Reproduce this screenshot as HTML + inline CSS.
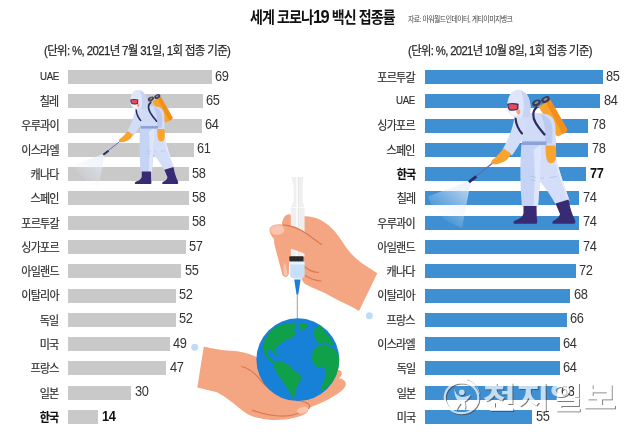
<!DOCTYPE html>
<html lang="ko">
<head>
<meta charset="utf-8">
<title>세계 코로나19 백신 접종률</title>
<style>
html,body{margin:0;padding:0;background:#fff;}
body{width:640px;height:439px;position:relative;overflow:hidden;font-family:"Liberation Sans","Noto Sans CJK KR",sans-serif;color:#222;}
.title{position:absolute;left:249.8px;top:7px;font-size:15.5px;font-weight:700;line-height:20px;white-space:nowrap;letter-spacing:-1px;color:#111;transform-origin:0 50%;transform:scaleX(.905);}
.title .n{font-size:18.2px;letter-spacing:-1.7px;margin-right:.6px;}
.src{position:absolute;left:407.5px;top:13.8px;font-size:8px;line-height:12px;white-space:nowrap;letter-spacing:-.6px;color:#444;transform-origin:0 50%;transform:scaleX(.86);}
.sub{position:absolute;top:42px;font-size:12.5px;line-height:18px;white-space:nowrap;letter-spacing:-.7px;color:#2a2a2a;-webkit-text-stroke:.25px #2a2a2a;transform-origin:0 50%;transform:scaleX(.917);}
.row{position:absolute;left:0;width:640px;height:14px;}
.lab{position:absolute;top:-1.2px;font-size:12px;line-height:18px;white-space:nowrap;letter-spacing:-.8px;color:#2e2e2e;-webkit-text-stroke:.2px #2e2e2e;transform-origin:100% 50%;transform:scaleX(.92);}
.lab.en{letter-spacing:-.5px;transform:scaleX(.82);top:-2.8px;font-size:11.8px;}
.bar{position:absolute;top:0;height:14px;display:block;}
.g{background:#c9c9c9;}
.bl{background:#3f8fd3;}
.val{position:absolute;top:-3.5px;font-size:14.5px;line-height:18px;white-space:nowrap;letter-spacing:-.3px;color:#333;transform-origin:0 50%;transform:scaleX(.885);}
.b .lab,.b .val{font-weight:700;color:#111;}
.b .val{margin-left:.8px;}
svg.art{position:absolute;left:0;top:0;width:640px;height:439px;}
</style>
</head>
<body>
<div class="title">세계 코로나<span class="n">19</span> 백신 접종률</div>
<div class="src">자료: 아워월드인데이터, 게티이미지뱅크</div>
<div class="sub" style="left:44px">(단위: %, 2021년 7월 31일, 1회 접종 기준)</div>
<div class="sub" style="left:408px;transform:scaleX(.905)">(단위: %, 2021년 10월 8일, 1회 접종 기준)</div>
<div class="row" style="top:70.00px"><span class="lab en" style="right:581.2px">UAE</span><i class="bar g" style="left:68px;width:143.75px"></i><span class="val" style="left:215.05px">69</span></div>
<div class="row" style="top:94.29px"><span class="lab" style="right:581.2px">칠레</span><i class="bar g" style="left:68px;width:135.00px"></i><span class="val" style="left:206.30px">65</span></div>
<div class="row" style="top:118.57px"><span class="lab" style="right:581.2px">우루과이</span><i class="bar g" style="left:68px;width:133.75px"></i><span class="val" style="left:205.05px">64</span></div>
<div class="row" style="top:142.86px"><span class="lab" style="right:581.2px">이스라엘</span><i class="bar g" style="left:68px;width:125.75px"></i><span class="val" style="left:197.05px">61</span></div>
<div class="row" style="top:167.14px"><span class="lab" style="right:581.2px">캐나다</span><i class="bar g" style="left:68px;width:120.75px"></i><span class="val" style="left:192.05px">58</span></div>
<div class="row" style="top:191.43px"><span class="lab" style="right:581.2px">스페인</span><i class="bar g" style="left:68px;width:120.75px"></i><span class="val" style="left:192.05px">58</span></div>
<div class="row" style="top:215.71px"><span class="lab" style="right:581.2px">포르투갈</span><i class="bar g" style="left:68px;width:120.75px"></i><span class="val" style="left:192.05px">58</span></div>
<div class="row" style="top:240.00px"><span class="lab" style="right:581.2px">싱가포르</span><i class="bar g" style="left:68px;width:117.50px"></i><span class="val" style="left:188.80px">57</span></div>
<div class="row" style="top:264.29px"><span class="lab" style="right:581.2px">아일랜드</span><i class="bar g" style="left:68px;width:113.25px"></i><span class="val" style="left:184.55px">55</span></div>
<div class="row" style="top:288.57px"><span class="lab" style="right:581.2px">이탈리아</span><i class="bar g" style="left:68px;width:107.75px"></i><span class="val" style="left:179.05px">52</span></div>
<div class="row" style="top:312.86px"><span class="lab" style="right:581.2px">독일</span><i class="bar g" style="left:68px;width:107.75px"></i><span class="val" style="left:179.05px">52</span></div>
<div class="row" style="top:337.14px"><span class="lab" style="right:581.2px">미국</span><i class="bar g" style="left:68px;width:102.00px"></i><span class="val" style="left:173.30px">49</span></div>
<div class="row" style="top:361.43px"><span class="lab" style="right:581.2px">프랑스</span><i class="bar g" style="left:68px;width:98.25px"></i><span class="val" style="left:169.55px">47</span></div>
<div class="row" style="top:385.71px"><span class="lab" style="right:581.2px">일본</span><i class="bar g" style="left:68px;width:63.25px"></i><span class="val" style="left:134.55px">30</span></div>
<div class="row b" style="top:410.00px"><span class="lab" style="right:581.2px">한국</span><i class="bar g" style="left:68px;width:29.90px"></i><span class="val" style="left:101.20px">14</span></div>
<div class="row" style="top:70.00px"><span class="lab" style="right:224.9px">포르투갈</span><i class="bar bl" style="left:424.5px;width:178.20px"></i><span class="val" style="left:606.40px">85</span></div>
<div class="row" style="top:94.29px"><span class="lab en" style="right:224.9px">UAE</span><i class="bar bl" style="left:424.5px;width:175.70px"></i><span class="val" style="left:603.90px">84</span></div>
<div class="row" style="top:118.57px"><span class="lab" style="right:224.9px">싱가포르</span><i class="bar bl" style="left:424.5px;width:163.80px"></i><span class="val" style="left:592.00px">78</span></div>
<div class="row" style="top:142.86px"><span class="lab" style="right:224.9px">스페인</span><i class="bar bl" style="left:424.5px;width:163.80px"></i><span class="val" style="left:592.00px">78</span></div>
<div class="row b" style="top:167.14px"><span class="lab" style="right:224.9px">한국</span><i class="bar bl" style="left:424.5px;width:161.25px"></i><span class="val" style="left:589.45px">77</span></div>
<div class="row" style="top:191.43px"><span class="lab" style="right:224.9px">칠레</span><i class="bar bl" style="left:424.5px;width:154.75px"></i><span class="val" style="left:582.95px">74</span></div>
<div class="row" style="top:215.71px"><span class="lab" style="right:224.9px">우루과이</span><i class="bar bl" style="left:424.5px;width:154.75px"></i><span class="val" style="left:582.95px">74</span></div>
<div class="row" style="top:240.00px"><span class="lab" style="right:224.9px">아일랜드</span><i class="bar bl" style="left:424.5px;width:154.75px"></i><span class="val" style="left:582.95px">74</span></div>
<div class="row" style="top:264.29px"><span class="lab" style="right:224.9px">캐나다</span><i class="bar bl" style="left:424.5px;width:151.00px"></i><span class="val" style="left:579.20px">72</span></div>
<div class="row" style="top:288.57px"><span class="lab" style="right:224.9px">이탈리아</span><i class="bar bl" style="left:424.5px;width:145.75px"></i><span class="val" style="left:573.95px">68</span></div>
<div class="row" style="top:312.86px"><span class="lab" style="right:224.9px">프랑스</span><i class="bar bl" style="left:424.5px;width:142.25px"></i><span class="val" style="left:570.45px">66</span></div>
<div class="row" style="top:337.14px"><span class="lab" style="right:224.9px">이스라엘</span><i class="bar bl" style="left:424.5px;width:135.00px"></i><span class="val" style="left:563.20px">64</span></div>
<div class="row" style="top:361.43px"><span class="lab" style="right:224.9px">독일</span><i class="bar bl" style="left:424.5px;width:135.00px"></i><span class="val" style="left:563.20px">64</span></div>
<div class="row" style="top:385.71px"><span class="lab" style="right:224.9px">일본</span><i class="bar bl" style="left:424.5px;width:132.50px"></i><span class="val" style="left:560.70px">63</span></div>
<div class="row" style="top:410.00px"><span class="lab" style="right:224.9px">미국</span><i class="bar bl" style="left:424.5px;width:107.50px"></i><span class="val" style="left:535.70px">55</span></div>
<svg class="art" viewBox="0 0 640 439" width="640" height="439">
<defs>
<linearGradient id="spL" gradientUnits="userSpaceOnUse" x1="469" y1="182" x2="442" y2="214">
<stop offset="0" stop-color="#e8f1fd" stop-opacity=".8"/><stop offset=".5" stop-color="#e4eefc" stop-opacity=".45"/><stop offset="1" stop-color="#e4eefc" stop-opacity=".12"/>
</linearGradient>
<linearGradient id="spR" gradientUnits="userSpaceOnUse" x1="469" y1="182" x2="442" y2="214">
<stop offset="0" stop-color="#e8f1fd" stop-opacity=".8"/><stop offset=".5" stop-color="#e4eefc" stop-opacity=".45"/><stop offset="1" stop-color="#e4eefc" stop-opacity=".12"/>
</linearGradient>
<filter id="wm" x="-5%" y="-10%" width="110%" height="125%" color-interpolation-filters="sRGB">
<feOffset in="SourceAlpha" dx="1.3" dy="1.3" result="off"/>
<feComposite in="off" in2="SourceAlpha" operator="out" result="sh"/>
<feFlood flood-color="#444" flood-opacity=".7" result="shf"/>
<feComposite in="shf" in2="sh" operator="in" result="shc"/>
<feFlood flood-color="#ffffff" flood-opacity=".7" result="wf"/>
<feComposite in="wf" in2="SourceAlpha" operator="in" result="fillc"/>
<feMerge><feMergeNode in="shc"/><feMergeNode in="fillc"/></feMerge>
</filter>
<clipPath id="gclip"><circle cx="297.8" cy="359.7" r="41.4"/></clipPath>
</defs>

<!-- left sprayer -->
<g transform="translate(-227.313 26.332000000000008) scale(0.705)">
<path d="M468.5,181 L428,196.5 C432,210 445,222 462,228 L470.5,183 Z" fill="url(#spL)"/>
<path d="M494,162 L470,181" stroke="#5a6fc0" stroke-width="1.4" stroke-linecap="round" fill="none"/>
<path d="M475.5,175.3 L468,181 L469.8,183.3 L477.2,177.6 Z" fill="#2d2a66"/>
<!-- back leg -->
<path d="M534,145 L553,145 C556,160 562,180 569.5,200.5 L556,205 C551,196 545,187 539,180.5 L535,160 Z" fill="#d4def8"/>
<path d="M552,150 C556,166 561,182 567.5,199 L569.5,200.5 C562,180 556,160 553,145 Z" fill="#e4ebfc"/>
<path d="M550,177.5 L557,176.5 M540.5,178.5 L544,177.5" stroke="#a9bcec" stroke-width=".7" fill="none"/>
<!-- back boot -->
<path d="M555.5,203.5 L568.5,199.5 C570,208 572,214 574.5,219 C576,222 575.5,223.8 573,223.8 L553.5,223.8 C552,223.8 552,221.5 554,220.5 C557,219 559.5,217 560,214 Z" fill="#372c73"/>
<!-- front leg -->
<path d="M521.5,144 L541,144 C541.5,160 540,180 538,206.5 L522,206.5 C520.5,190 519.5,165 521.5,144 Z" fill="#c5d3f5"/>
<path d="M533.5,150 C535.5,165 534.5,190 533.5,206.5 L538,206.5 C540,180 541.5,160 541,144 Z" fill="#dde6fb"/>
<path d="M530,176 L536,177.5 M531,180 L535.5,180.5" stroke="#a9bcec" stroke-width=".7" fill="none"/>
<!-- front boot -->
<path d="M523.5,206 L536.5,206 L536.8,218 C537.5,221 537.5,223.8 536,223.8 L515,223.8 C513,223.8 513,221.5 515,220.5 C519,219 523,217 523.5,213 Z" fill="#372c73"/>
<!-- tank -->
<path d="M538.5,106.5 L550.5,100 L567,129 C567.5,130.5 567,131.5 565.5,132.5 L559,136 C557.5,136.5 556.5,136 555.5,134.5 Z" fill="#f9a42e"/>
<path d="M546,102.5 L550.5,100 L567,129 C567.5,130.5 567,131.5 565.5,132.5 L562.5,134 Z" fill="#f28f1c"/>
<ellipse cx="536.5" cy="103" rx="4.6" ry="3" transform="rotate(-28 536.5 103)" fill="#3b3d55"/>
<ellipse cx="545.5" cy="99.6" rx="4.6" ry="3" transform="rotate(-28 545.5 99.6)" fill="#3b3d55"/>
<ellipse cx="536.5" cy="102.6" rx="2.2" ry="1.1" transform="rotate(-28 536.5 102.6)" fill="#8d90a8"/>
<ellipse cx="545.5" cy="99.2" rx="2.2" ry="1.1" transform="rotate(-28 545.5 99.2)" fill="#8d90a8"/>
<!-- back arm -->
<path d="M544,114 C551,114 555,119 555.5,127 L556,147 L545.5,147 C545.5,138 545,128 544,114 Z" fill="#d3ddf8"/>
<path d="M545.5,145.5 L555.5,145.5 C556.5,151 556.5,156 555.5,160 C554.5,163 551,164 548.5,162.5 C546,161 545.5,152 545.5,145.5 Z" fill="#f9a42e"/>
<!-- torso -->
<path d="M515,116 C522,113 538,112 546,114.5 C551,117 553,124 552.5,132 L552,143.5 L522,143.5 C522,136 520,128 515.5,122 C514,120 514,117.5 515,116 Z" fill="#cfdbf7"/>
<path d="M540,114 C548,115 553,122 552.5,132 L552,143.5 L545,143.5 C546,132 545,122 540,114 Z" fill="#bccaf1"/>
<path d="M522,141.4 L546.5,141.4 L546.5,145 L522,145 Z" fill="#8ca2dc"/>
<!-- straps -->
<path d="M536.5,107.5 C532.5,111 532.5,117 535.5,122.5 C538,127 541.5,131 544.5,134.5" stroke="#2d2a5c" stroke-width="2.3" fill="none" stroke-linecap="round"/>
<!-- front arm -->
<path d="M516.5,117.5 C521,116 526.5,119 527,124 C527,131 522,141 512,155.5 L502.5,149.5 C508,140 512,130 513.5,122 C514,119.5 515,118 516.5,117.5 Z" fill="#d2ddf8"/>
<path d="M515.6,118.5 C516,124 518.5,129.5 522,133.5" stroke="#2d2a5c" stroke-width="2.1" fill="none" stroke-linecap="round"/>
<!-- front glove -->
<path d="M503.5,148.5 L511,153.5 C509.5,158 506,161.5 501,163 C497,164.5 492.5,165 491.2,163 C490.5,161.5 492.5,159.5 495.5,157.5 C498.5,154.5 501,151.5 503.5,148.5 Z" fill="#f9a42e"/>
<!-- hood -->
<path d="M507.3,108 C506.5,98 511,90 518.5,89.8 C526,89.8 530.5,98 530.5,108 C530.5,112 530,115 528.5,117.5 L516,117.5 C512,117 508,113.5 507.3,108 Z" fill="#dfe6fa"/>
<path d="M521,91 C527,93 530.5,99 530.5,108 C530.5,112 530,115 528.5,117.5 L522,117.5 C524.5,110 525,100 521,91 Z" fill="#c6d3f5"/>
<path d="M510,110 L516,110.5 L519.5,109.5 C520.5,112 520,114.5 518,115.5 L512.5,115.5 C510.5,114.5 509.5,112.5 510,110 Z" fill="#f6f7fc"/>
<path d="M516,110.5 C517.5,110.5 519,110 519.8,109.3 C520.8,111.5 520.3,114 518.5,115 C517.3,114 516.3,112.5 516,110.5 Z" fill="#f0a187"/>
<path d="M507.3,103.8 C510,102.8 515,102.8 518.6,103.8 L518.4,109.3 C516.5,110.8 512,111.2 509.2,110.2 C507.8,108.8 507.2,106 507.3,103.8 Z" fill="#3a2b6b"/>
<path d="M508.6,104.8 C511,104.2 514.5,104.2 517.3,104.9 L517.1,108.6 C515.2,109.6 512,109.9 509.9,109.2 C509,108 508.5,106.3 508.6,104.8 Z" fill="#ea4a55"/>
</g>
<!-- right sprayer -->
<g transform="translate(0 0) scale(1)">
<path d="M468.5,181 L428,196.5 C432,210 445,222 462,228 L470.5,183 Z" fill="url(#spR)"/>
<path d="M494,162 L470,181" stroke="#5a6fc0" stroke-width="1.4" stroke-linecap="round" fill="none"/>
<path d="M475.5,175.3 L468,181 L469.8,183.3 L477.2,177.6 Z" fill="#2d2a66"/>
<!-- back leg -->
<path d="M534,145 L553,145 C556,160 562,180 569.5,200.5 L556,205 C551,196 545,187 539,180.5 L535,160 Z" fill="#d4def8"/>
<path d="M552,150 C556,166 561,182 567.5,199 L569.5,200.5 C562,180 556,160 553,145 Z" fill="#e4ebfc"/>
<path d="M550,177.5 L557,176.5 M540.5,178.5 L544,177.5" stroke="#a9bcec" stroke-width=".7" fill="none"/>
<!-- back boot -->
<path d="M555.5,203.5 L568.5,199.5 C570,208 572,214 574.5,219 C576,222 575.5,223.8 573,223.8 L553.5,223.8 C552,223.8 552,221.5 554,220.5 C557,219 559.5,217 560,214 Z" fill="#372c73"/>
<!-- front leg -->
<path d="M521.5,144 L541,144 C541.5,160 540,180 538,206.5 L522,206.5 C520.5,190 519.5,165 521.5,144 Z" fill="#c5d3f5"/>
<path d="M533.5,150 C535.5,165 534.5,190 533.5,206.5 L538,206.5 C540,180 541.5,160 541,144 Z" fill="#dde6fb"/>
<path d="M530,176 L536,177.5 M531,180 L535.5,180.5" stroke="#a9bcec" stroke-width=".7" fill="none"/>
<!-- front boot -->
<path d="M523.5,206 L536.5,206 L536.8,218 C537.5,221 537.5,223.8 536,223.8 L515,223.8 C513,223.8 513,221.5 515,220.5 C519,219 523,217 523.5,213 Z" fill="#372c73"/>
<!-- tank -->
<path d="M538.5,106.5 L550.5,100 L567,129 C567.5,130.5 567,131.5 565.5,132.5 L559,136 C557.5,136.5 556.5,136 555.5,134.5 Z" fill="#f9a42e"/>
<path d="M546,102.5 L550.5,100 L567,129 C567.5,130.5 567,131.5 565.5,132.5 L562.5,134 Z" fill="#f28f1c"/>
<ellipse cx="536.5" cy="103" rx="4.6" ry="3" transform="rotate(-28 536.5 103)" fill="#3b3d55"/>
<ellipse cx="545.5" cy="99.6" rx="4.6" ry="3" transform="rotate(-28 545.5 99.6)" fill="#3b3d55"/>
<ellipse cx="536.5" cy="102.6" rx="2.2" ry="1.1" transform="rotate(-28 536.5 102.6)" fill="#8d90a8"/>
<ellipse cx="545.5" cy="99.2" rx="2.2" ry="1.1" transform="rotate(-28 545.5 99.2)" fill="#8d90a8"/>
<!-- back arm -->
<path d="M544,114 C551,114 555,119 555.5,127 L556,147 L545.5,147 C545.5,138 545,128 544,114 Z" fill="#d3ddf8"/>
<path d="M545.5,145.5 L555.5,145.5 C556.5,151 556.5,156 555.5,160 C554.5,163 551,164 548.5,162.5 C546,161 545.5,152 545.5,145.5 Z" fill="#f9a42e"/>
<!-- torso -->
<path d="M515,116 C522,113 538,112 546,114.5 C551,117 553,124 552.5,132 L552,143.5 L522,143.5 C522,136 520,128 515.5,122 C514,120 514,117.5 515,116 Z" fill="#cfdbf7"/>
<path d="M540,114 C548,115 553,122 552.5,132 L552,143.5 L545,143.5 C546,132 545,122 540,114 Z" fill="#bccaf1"/>
<path d="M522,141.4 L546.5,141.4 L546.5,145 L522,145 Z" fill="#8ca2dc"/>
<!-- straps -->
<path d="M536.5,107.5 C532.5,111 532.5,117 535.5,122.5 C538,127 541.5,131 544.5,134.5" stroke="#2d2a5c" stroke-width="2.3" fill="none" stroke-linecap="round"/>
<!-- front arm -->
<path d="M516.5,117.5 C521,116 526.5,119 527,124 C527,131 522,141 512,155.5 L502.5,149.5 C508,140 512,130 513.5,122 C514,119.5 515,118 516.5,117.5 Z" fill="#d2ddf8"/>
<path d="M515.6,118.5 C516,124 518.5,129.5 522,133.5" stroke="#2d2a5c" stroke-width="2.1" fill="none" stroke-linecap="round"/>
<!-- front glove -->
<path d="M503.5,148.5 L511,153.5 C509.5,158 506,161.5 501,163 C497,164.5 492.5,165 491.2,163 C490.5,161.5 492.5,159.5 495.5,157.5 C498.5,154.5 501,151.5 503.5,148.5 Z" fill="#f9a42e"/>
<!-- hood -->
<path d="M507.3,108 C506.5,98 511,90 518.5,89.8 C526,89.8 530.5,98 530.5,108 C530.5,112 530,115 528.5,117.5 L516,117.5 C512,117 508,113.5 507.3,108 Z" fill="#dfe6fa"/>
<path d="M521,91 C527,93 530.5,99 530.5,108 C530.5,112 530,115 528.5,117.5 L522,117.5 C524.5,110 525,100 521,91 Z" fill="#c6d3f5"/>
<path d="M510,110 L516,110.5 L519.5,109.5 C520.5,112 520,114.5 518,115.5 L512.5,115.5 C510.5,114.5 509.5,112.5 510,110 Z" fill="#f6f7fc"/>
<path d="M516,110.5 C517.5,110.5 519,110 519.8,109.3 C520.8,111.5 520.3,114 518.5,115 C517.3,114 516.3,112.5 516,110.5 Z" fill="#f0a187"/>
<path d="M507.3,103.8 C510,102.8 515,102.8 518.6,103.8 L518.4,109.3 C516.5,110.8 512,111.2 509.2,110.2 C507.8,108.8 507.2,106 507.3,103.8 Z" fill="#3a2b6b"/>
<path d="M508.6,104.8 C511,104.2 514.5,104.2 517.3,104.9 L517.1,108.6 C515.2,109.6 512,109.9 509.9,109.2 C509,108 508.5,106.3 508.6,104.8 Z" fill="#ea4a55"/>
</g>

<!-- dots -->
<circle cx="194.7" cy="347.2" r="3.5" fill="#bfdcf7"/>
<circle cx="369.3" cy="315.8" r="3.5" fill="#bfdcf7"/>

<!-- bottom hand -->
<path d="M203.8,346.4 C212,348.6 222,350.3 231,350.8 C241,351.2 251,353.5 260,359 L330,372 C334,369.5 339.5,369 341.3,371.5 C342.5,373.5 341.5,376 339,378.5 C342,378.5 345.5,380.5 345.8,383.5 C346,388 341,392 334,396 C326,401 316,405.5 308,408 C309.5,411.5 306,414.5 299,416.5 C290,419.5 279,420.5 269,419.8 C259,419 251,416.5 245,412.5 C237,407 229,398.5 217,392.3 L197.3,387.4 Z" fill="#f4a582"/>
<path d="M241.5,366.5 C249,368.5 255,373 260,379.5 C266,387 274,394 286,397.5 C293,399.5 301,400.5 307,403 C310,404.5 310.5,407 308.5,408.5" stroke="#da7a52" stroke-width="1.25" fill="none" stroke-linecap="round"/>
<path d="M252.5,410.3 C262,413.5 273,416 283,416 C290,416 296,414.5 301,412" stroke="#da7a52" stroke-width="1.25" fill="none" stroke-linecap="round"/>
<path d="M297.5,409.5 C300,407 304.5,406 307,407.3 C309,408.8 308.3,411.3 305.5,412.8 C302.5,414 298.5,413.8 297.3,412 C296.8,411 297,410 297.5,409.5 Z" fill="#fac5ae"/>

<!-- top hand (back part) -->
<path d="M282,226 C281.5,219 285.5,213.5 290,214.2 L292,216 L305,216.2 C316,216.5 325,221 333,229.5 C340,237 344,245 349,251 C352.5,255.5 358.5,261 365,265.3 L377.3,273.3 L359,311 C351,305.5 341,302 332.5,297.2 C323,291.5 313,288.5 306.5,284.8 C302.5,282.5 300.5,278.5 301.5,273 L303,258 L289.5,258 L288.8,273.5 C288.3,277.5 284,278.3 282.3,274.5 L276,250.5 C274.3,244.5 273.3,239.5 274.5,236.5 Z" fill="#f4a582"/>
<path d="M304.5,266.5 C308,270 313,272 318.5,272.5 M305.5,275.5 C309.5,278.5 315,280.5 321,281" stroke="#da7a52" stroke-width="1.25" fill="none" stroke-linecap="round"/>

<!-- syringe -->
<path d="M297.3,291 L297.3,321" stroke="#9a9ea6" stroke-width="1"/>
<path d="M291.6,177 L303.4,177 C303.2,181 302.8,184 302.6,187.5 L302.6,201 C302.8,204 304.4,205.5 304.6,207.5 L304.6,256.5 L290.8,256.5 L290.8,207.5 C291,205.5 293.6,204 293.8,201 L293.8,187.5 C293.6,184 292,181 291.6,177 Z" fill="#efefef"/>
<path d="M296.2,177 L298.6,177 L298.6,256 L296.2,256 Z" fill="#fbfbfb"/>
<path d="M298.4,177 L298.4,256" stroke="#d9d9d9" stroke-width=".6"/>
<path d="M290.2,207.6 L304.8,207.6" stroke="#fff" stroke-width=".8"/>
<rect x="289.3" y="256.2" width="14.2" height="5.2" rx="1" fill="#2b2b2e"/>
<path d="M290.2,262 L304.6,262 L304.6,274.5 C304.6,277 303,278.5 300.5,278.5 L294.2,278.5 C291.8,278.5 290.2,277 290.2,274.5 Z" fill="#c6e0f9"/>
<path d="M290.2,262 L304.6,262 L304.6,264.5 L290.2,264.5 Z" fill="#e9f3fd"/>
<path d="M294.2,279.5 L300.6,279.5 L299.3,288 L298.2,294.5 L296.6,294.5 L295.5,288 Z" fill="#1e7dd2"/>

<!-- thumb over syringe -->
<path d="M269.6,231.5 C268.5,227.5 272.5,224.5 279,224.3 C289,224.3 298,227.5 306,233 C313,238 319,242.5 324,246 L312,258 C306,254 298,250.5 290,248.5 C281,246 271.5,239 269.6,231.5 Z" fill="#f4a582"/>
<path d="M283.5,224.8 C292,225.5 300,229 307,234 C313,238.3 318,242 321.5,244.6" stroke="#da7a52" stroke-width="1.25" fill="none" stroke-linecap="round"/>
<path d="M270.3,231 C269.5,227.5 273,225.3 278,225.3 C281.5,225.3 284,227 284.3,229.5 C284.5,232.5 281,234.8 276.5,234.8 C273.3,234.8 271,233.3 270.3,231 Z" fill="#fac5ae"/>
<path d="M284.5,262 C286,266 287.3,270.5 287.5,274.5 C286.5,276.5 284.3,276 283.8,274 C283.3,270 283.5,265.5 284.5,262 Z" fill="#fac5ae"/>

<!-- globe -->
<circle cx="297.8" cy="359.7" r="41.4" fill="#1780d7"/>
<g clip-path="url(#gclip)" fill="#10a04a">
<path d="M263.2,348.8 L265.3,339.6 L270.4,331.4 L277.6,326.3 L285.8,324.2 L292.9,323.2 L296,324.2 L295.5,328 L293,330.5 L295.5,333 L294.7,335.5 L292.7,337 L287.6,339.1 L283.5,341.2 L279.4,344.2 L276.3,347.3 L274.5,349.9 L275.8,353 L273.5,352.2 L272,349.3 L268.5,349.5 L267,352 L267.8,357 L270.5,357.3 L271.5,360 L273.5,362.3 L275.5,364 L272.4,363.5 L268.3,359.1 L265.3,355 Z" stroke="#10a04a" stroke-width=".8" stroke-linejoin="round"/>
<path d="M299.1,323.2 L307.3,324.2 L306.3,327.3 L303.2,330.4 L300.1,328.3 Z" stroke="#10a04a" stroke-width=".8" stroke-linejoin="round"/>
<path d="M275.3,362.7 L278.3,361.9 L285.5,363.2 L290.6,366.8 L293.7,370.9 L298.8,373.5 L300.9,376 L300,381 L297,385.7 L295,390.9 L294,397 L291.9,396 L288.8,389.8 L284.7,383.7 L278.3,375 L275.3,369 L274.2,365 Z" stroke="#10a04a" stroke-width=".8" stroke-linejoin="round"/>
<path d="M313.4,333.5 L316.5,327.3 L320.6,326.3 L323.7,330.4 L326.8,334.5 L330.9,339.6 L333.9,345.8 L328.8,344.2 L324.7,342.2 L320.6,343 L316.5,341.7 L315.5,337.6 Z" stroke="#10a04a" stroke-width=".8" stroke-linejoin="round"/>
<path d="M325,344.7 L318.3,345.5 L314.2,349.4 L312.4,355.5 L312.7,360.6 L315.3,365.3 L318.3,367.3 L325,365.8 L325.7,373.4 L324.7,380.6 L320.6,389.8 L322.7,390.9 L328.8,385.7 L335,378.6 L339.1,370.4 L340.1,360.1 L337,352.9 L332.9,348.8 L328,346.5 Z" stroke="#10a04a" stroke-width=".8" stroke-linejoin="round"/>
<ellipse cx="277.3" cy="355.3" rx="3.2" ry=".9" transform="rotate(12 277.3 355.3)"/>
</g>

<!-- watermark -->
<g filter="url(#wm)">
<ellipse cx="461.5" cy="397.8" rx="16.8" ry="15.4" fill="none" stroke="#fff" stroke-width="2.2"/>
<path d="M466,378.6 C473.5,380.8 478.5,386.8 479.3,394.3" fill="none" stroke="#fff" stroke-width=".7"/>
<circle cx="461.8" cy="392.2" r="2.8" fill="#fff"/>
<path d="M454.3,388.6 C455.6,393.5 458,396.6 461.6,397 C465,397.2 468,396.2 470.9,394.6 C469.2,398.3 466.8,400.5 464.6,401.6 C465.6,404 465.7,407 464.9,409.6 C463.6,406.6 462.2,404.6 460.6,403.6 C459,405.6 457.6,408 456.3,410.8 C455.7,407 456.4,403.6 457.9,401 C455.3,397.8 454.1,393.6 454.3,388.6 Z" fill="#fff"/>
<text x="482.8" y="408" font-family="'Liberation Sans','Noto Sans CJK KR',sans-serif" font-weight="700" font-size="30" textLength="133.6" lengthAdjust="spacingAndGlyphs" fill="#fff">천지일보</text>
</g>
</svg>
</body>
</html>
